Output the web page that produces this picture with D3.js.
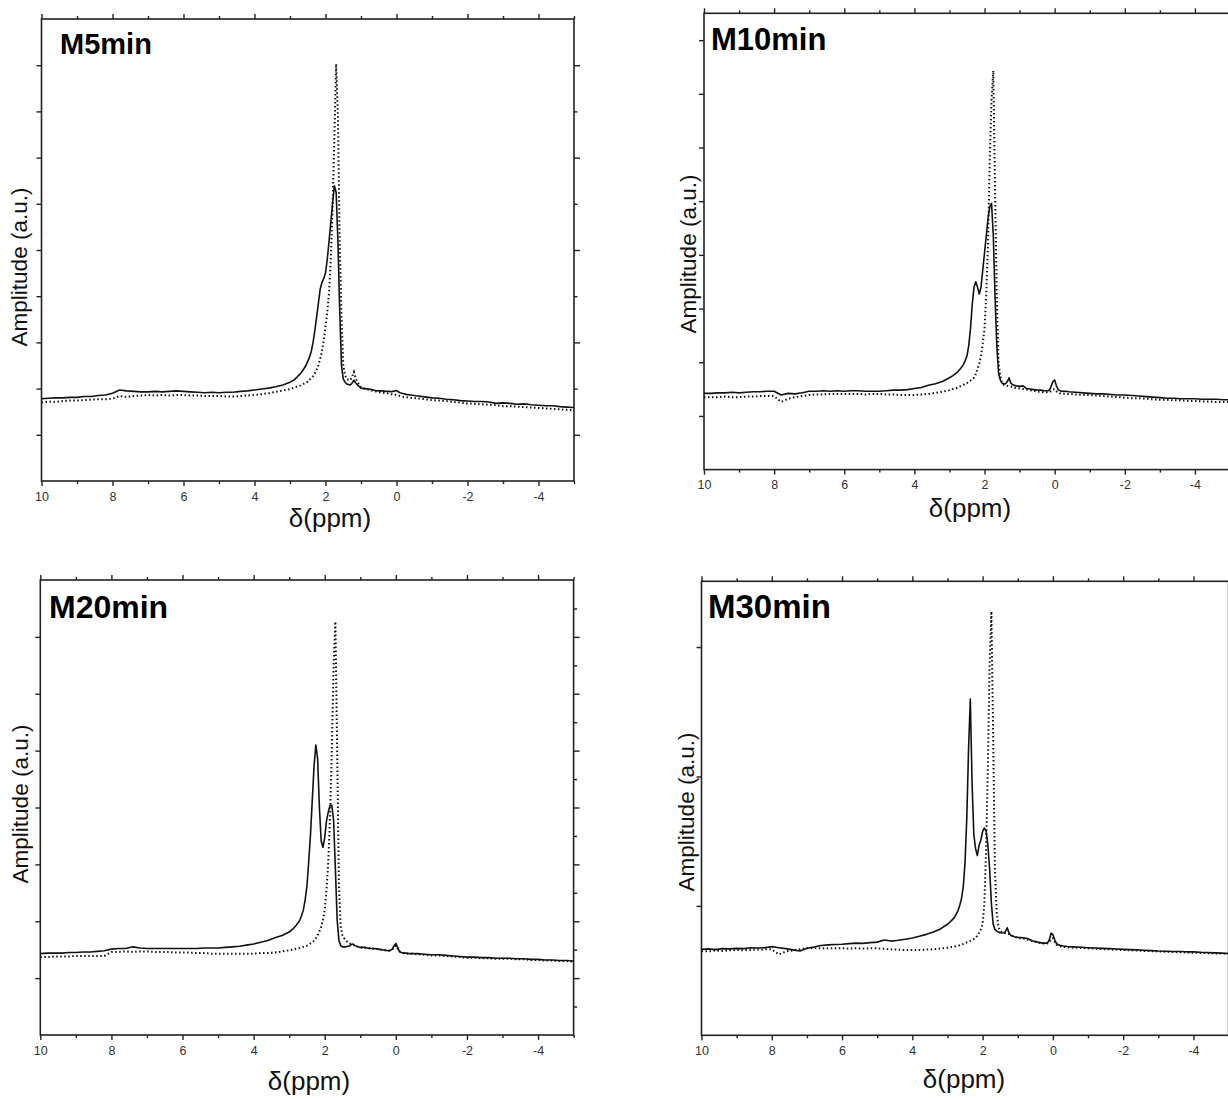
<!DOCTYPE html>
<html>
<head>
<meta charset="utf-8">
<script src="https://cdn.jsdelivr.net/npm/d3@7"></script>
<style>
  html, body { margin: 0; padding: 0; background: #fff; }
  svg { display: block; }
  .tick text { font-family: "Liberation Sans", Arial, sans-serif; fill: #333; }
</style>
</head>
<body>
<svg id="chart" width="1228" height="1099"></svg>
<script>
// Chemical shift grid (ppm), shared by every spectrum
const ppm = [
  10, 9.8, 9.6, 9.4, 9.2, 9.0, 8.8, 8.6, 8.4, 8.2, 8.0, 7.8, 7.6, 7.4, 7.2, 7.0, 6.8, 6.6, 6.4, 6.2,
  6.0, 5.8, 5.6, 5.4, 5.2, 5.0, 4.8, 4.6, 4.4, 4.2, 4.0, 3.8, 3.6, 3.4, 3.2,
  3.0, 2.9, 2.8, 2.7, 2.65, 2.6, 2.55, 2.5, 2.45, 2.4, 2.35, 2.3, 2.25, 2.2, 2.15, 2.1, 2.05, 2.0,
  1.95, 1.9, 1.85, 1.8, 1.75, 1.7, 1.65, 1.6, 1.55, 1.5, 1.45, 1.4, 1.35, 1.3, 1.25, 1.2, 1.15, 1.1, 1.0,
  0.9, 0.8, 0.7, 0.6, 0.5, 0.4, 0.3, 0.2, 0.15, 0.1, 0.05, 0, -0.05, -0.1, -0.15, -0.2, -0.3, -0.4,
  -0.6, -0.8, -1.0, -1.2, -1.4, -1.6, -1.8, -2.0, -2.2, -2.4, -2.6, -2.8, -3.0, -3.2, -3.4, -3.6,
  -3.8, -4.0, -4.2, -4.4, -4.6, -4.8, -5.0
];

// M5min
const m5Sample = [
  1.78, 1.79, 1.80, 1.80, 1.81, 1.81, 1.83, 1.83, 1.85, 1.86, 1.90, 1.97, 1.95, 1.94, 1.93, 1.93, 1.94, 1.93, 1.94, 1.95,
  1.94, 1.93, 1.92, 1.91, 1.92, 1.91, 1.92, 1.92, 1.94, 1.95, 1.97, 1.99, 2.01, 2.04, 2.08,
  2.14, 2.18, 2.25, 2.33, 2.38, 2.44, 2.50, 2.59, 2.68, 2.81, 3.00, 3.26, 3.55, 3.85, 4.15, 4.30, 4.38, 4.50,
  4.80, 5.19, 5.60, 6.01, 6.39, 6.25, 5.19, 3.70, 2.51, 2.21, 2.14, 2.10, 2.09, 2.08, 2.12, 2.18, 2.12, 2.08, 2.01,
  2.00, 1.99, 1.98, 1.96, 1.95, 1.95, 1.94, 1.94, 1.93, 1.94, 1.95, 1.96, 1.93, 1.91, 1.90, 1.89, 1.87, 1.86,
  1.84, 1.82, 1.80, 1.79, 1.77, 1.76, 1.74, 1.73, 1.72, 1.72, 1.71, 1.68, 1.69, 1.68, 1.66, 1.67,
  1.65, 1.64, 1.63, 1.63, 1.61, 1.60, 1.59
];
const m5Reference = [
  1.70, 1.72, 1.71, 1.73, 1.74, 1.74, 1.75, 1.76, 1.77, 1.77, 1.78, 1.84, 1.82, 1.84, 1.85, 1.86, 1.85, 1.86, 1.85, 1.86,
  1.86, 1.85, 1.85, 1.84, 1.84, 1.84, 1.83, 1.83, 1.84, 1.85, 1.86, 1.88, 1.90, 1.93, 1.96,
  1.99, 2.02, 2.04, 2.07, 2.09, 2.11, 2.13, 2.15, 2.19, 2.23, 2.27, 2.33, 2.41, 2.51, 2.64, 2.81, 3.03, 3.33,
  3.66, 4.08, 4.82, 5.94, 7.43, 9.03, 7.90, 5.19, 3.55, 2.51, 2.29, 2.21, 2.19, 2.18, 2.26, 2.36, 2.22, 2.14, 2.03,
  2.00, 1.98, 1.96, 1.94, 1.92, 1.91, 1.90, 1.89, 1.88, 1.88, 1.87, 1.86, 1.85, 1.84, 1.83, 1.82, 1.81, 1.80,
  1.79, 1.77, 1.75, 1.74, 1.73, 1.71, 1.70, 1.68, 1.67, 1.66, 1.65, 1.64, 1.62, 1.62, 1.61, 1.60,
  1.59, 1.58, 1.57, 1.56, 1.55, 1.54, 1.53
];

// M10min
const m10Sample = [
  1.42, 1.42, 1.43, 1.43, 1.44, 1.43, 1.44, 1.45, 1.45, 1.46, 1.46, 1.39, 1.42, 1.41, 1.43, 1.46, 1.46, 1.47, 1.46, 1.47,
  1.46, 1.47, 1.47, 1.46, 1.46, 1.46, 1.47, 1.48, 1.48, 1.49, 1.51, 1.53, 1.57, 1.60, 1.64,
  1.71, 1.75, 1.80, 1.87, 1.91, 1.96, 2.03, 2.12, 2.31, 2.63, 3.08, 3.40, 3.50, 3.40, 3.27, 3.40, 3.72, 4.04,
  4.36, 4.68, 4.90, 4.96, 4.36, 3.21, 2.31, 1.80, 1.67, 1.61, 1.60, 1.60, 1.64, 1.71, 1.61, 1.58, 1.57, 1.56, 1.55,
  1.56, 1.51, 1.50, 1.49, 1.48, 1.48, 1.47, 1.47, 1.48, 1.55, 1.64, 1.67, 1.56, 1.49, 1.47, 1.46, 1.46, 1.45,
  1.44, 1.43, 1.42, 1.41, 1.41, 1.40, 1.39, 1.39, 1.38, 1.37, 1.36, 1.35, 1.34, 1.33, 1.33, 1.32,
  1.32, 1.32, 1.31, 1.31, 1.31, 1.30, 1.30
];
const m10Reference = [
  1.35, 1.35, 1.35, 1.36, 1.35, 1.35, 1.36, 1.36, 1.37, 1.37, 1.37, 1.26, 1.32, 1.35, 1.37, 1.39, 1.40, 1.40, 1.41, 1.41,
  1.41, 1.41, 1.41, 1.40, 1.41, 1.41, 1.40, 1.40, 1.39, 1.39, 1.39, 1.40, 1.41, 1.43, 1.45,
  1.48, 1.50, 1.52, 1.55, 1.57, 1.58, 1.60, 1.61, 1.64, 1.66, 1.68, 1.71, 1.78, 1.87, 1.98, 2.12, 2.35, 2.63,
  3.27, 4.23, 5.83, 6.90, 7.43, 5.20, 3.20, 1.99, 1.74, 1.61, 1.58, 1.57, 1.56, 1.55, 1.55, 1.54, 1.53, 1.52, 1.51,
  1.50, 1.49, 1.48, 1.47, 1.45, 1.45, 1.44, 1.44, 1.44, 1.46, 1.49, 1.50, 1.46, 1.43, 1.42, 1.42, 1.41, 1.41,
  1.40, 1.39, 1.39, 1.38, 1.37, 1.36, 1.35, 1.34, 1.33, 1.33, 1.32, 1.31, 1.30, 1.30, 1.29, 1.29,
  1.28, 1.28, 1.27, 1.27, 1.26, 1.26, 1.26
];

// M20min
const m20Sample = [
  1.43, 1.44, 1.44, 1.44, 1.45, 1.45, 1.46, 1.46, 1.47, 1.48, 1.51, 1.52, 1.52, 1.55, 1.53, 1.52, 1.52, 1.52, 1.52, 1.52,
  1.52, 1.52, 1.52, 1.53, 1.53, 1.53, 1.54, 1.55, 1.56, 1.58, 1.60, 1.63, 1.66, 1.71, 1.75,
  1.81, 1.86, 1.93, 2.02, 2.10, 2.20, 2.38, 2.62, 3.05, 3.53, 4.13, 4.73, 5.10, 4.86, 4.01, 3.41, 3.30, 3.47,
  3.77, 3.92, 4.04, 4.04, 3.77, 2.92, 2.02, 1.66, 1.57, 1.55, 1.55, 1.55, 1.56, 1.57, 1.59, 1.60, 1.57, 1.56, 1.54,
  1.54, 1.53, 1.52, 1.52, 1.51, 1.50, 1.49, 1.48, 1.49, 1.51, 1.57, 1.61, 1.54, 1.47, 1.45, 1.44, 1.44, 1.43,
  1.43, 1.42, 1.41, 1.41, 1.40, 1.39, 1.38, 1.37, 1.37, 1.36, 1.36, 1.35, 1.35, 1.35, 1.34, 1.34,
  1.33, 1.33, 1.32, 1.32, 1.31, 1.31, 1.30
];
const m20Reference = [
  1.37, 1.37, 1.38, 1.38, 1.38, 1.39, 1.39, 1.39, 1.39, 1.39, 1.46, 1.46, 1.47, 1.46, 1.47, 1.47, 1.46, 1.46, 1.46, 1.45,
  1.45, 1.45, 1.44, 1.44, 1.43, 1.43, 1.43, 1.43, 1.43, 1.43, 1.43, 1.44, 1.44, 1.45, 1.47,
  1.49, 1.50, 1.52, 1.53, 1.54, 1.55, 1.56, 1.57, 1.59, 1.61, 1.63, 1.66, 1.70, 1.75, 1.82, 1.90, 2.03, 2.20,
  2.56, 3.05, 3.83, 5.04, 6.50, 7.27, 5.00, 2.62, 1.90, 1.75, 1.70, 1.66, 1.63, 1.61, 1.60, 1.59, 1.57, 1.56, 1.54,
  1.54, 1.53, 1.52, 1.51, 1.51, 1.50, 1.49, 1.48, 1.49, 1.50, 1.54, 1.57, 1.52, 1.47, 1.45, 1.44, 1.43, 1.43,
  1.42, 1.41, 1.40, 1.40, 1.39, 1.38, 1.37, 1.36, 1.36, 1.35, 1.35, 1.34, 1.34, 1.34, 1.33, 1.33,
  1.32, 1.32, 1.31, 1.31, 1.30, 1.30, 1.29
];

// M30min
const m30Sample = [
  0.664, 0.668, 0.662, 0.670, 0.668, 0.672, 0.670, 0.676, 0.674, 0.677, 0.685, 0.677, 0.670, 0.660, 0.651, 0.672, 0.682, 0.694, 0.699, 0.702,
  0.704, 0.708, 0.712, 0.710, 0.716, 0.720, 0.736, 0.728, 0.734, 0.742, 0.752, 0.765, 0.780, 0.798, 0.822,
  0.858, 0.882, 0.911, 0.964, 1.005, 1.057, 1.150, 1.336, 1.681, 2.212, 2.598, 1.947, 1.549, 1.442, 1.389, 1.469, 1.509, 1.575,
  1.602, 1.575, 1.469, 1.283, 1.017, 0.858, 0.818, 0.805, 0.798, 0.792, 0.790, 0.792, 0.800, 0.831, 0.792, 0.772, 0.768, 0.762, 0.757,
  0.755, 0.752, 0.745, 0.730, 0.725, 0.718, 0.712, 0.712, 0.716, 0.738, 0.790, 0.778, 0.740, 0.710, 0.700, 0.695, 0.690, 0.686,
  0.683, 0.680, 0.677, 0.675, 0.672, 0.670, 0.667, 0.664, 0.662, 0.660, 0.657, 0.654, 0.651, 0.650, 0.648, 0.647,
  0.645, 0.645, 0.641, 0.640, 0.637, 0.635, 0.632
];
const m30Reference = [
  0.651, 0.648, 0.655, 0.652, 0.657, 0.659, 0.657, 0.660, 0.662, 0.664, 0.664, 0.624, 0.648, 0.656, 0.665, 0.672, 0.674, 0.672, 0.673, 0.672,
  0.672, 0.671, 0.672, 0.670, 0.672, 0.672, 0.668, 0.664, 0.662, 0.658, 0.659, 0.660, 0.662, 0.665, 0.670,
  0.677, 0.681, 0.686, 0.692, 0.696, 0.700, 0.706, 0.712, 0.718, 0.724, 0.730, 0.737, 0.744, 0.752, 0.770, 0.792, 0.820, 0.858,
  1.020, 1.450, 2.090, 2.880, 3.275, 2.300, 1.280, 0.950, 0.840, 0.805, 0.798, 0.792, 0.788, 0.785, 0.782, 0.775, 0.768, 0.762, 0.752,
  0.750, 0.745, 0.738, 0.730, 0.722, 0.716, 0.710, 0.708, 0.710, 0.720, 0.745, 0.750, 0.725, 0.700, 0.692, 0.688, 0.684, 0.680,
  0.677, 0.674, 0.672, 0.669, 0.667, 0.664, 0.662, 0.659, 0.657, 0.655, 0.652, 0.650, 0.648, 0.646, 0.644, 0.642,
  0.640, 0.638, 0.637, 0.635, 0.633, 0.632, 0.630
];

// Axis tick values
const xMajorTicks = [10, 8, 6, 4, 2, 0, -2, -4];
const xMinorTicks = [9, 7, 5, 3, 1, -1, -3, -5];
const panelTitles = ["M5min", "M10min", "M20min", "M30min"];
const xTitle = "δ(ppm)";
const yTitle = "Amplitude (a.u.)";

const svg = d3.select("#chart");
const FONT = '"Liberation Sans", Arial, Helvetica, sans-serif';

const panels = [
  { title: panelTitles[0], sample: m5Sample, reference: m5Reference,
    left: 41.5, right: 574, top: 19, bottom: 481, yMax: 10,
    leftTicks: [1, 2, 3, 4, 5, 6, 7, 8, 9], rightMajor: [1, 3, 5, 7, 9], rightMinor: [2, 4, 6, 8],
    titleX: 60, titleY: 54, titleSize: 29,
    yTitleX: 27, yTitleY: 267, xTitleX: 330, xTitleY: 527 },
  { title: panelTitles[1], sample: m10Sample, reference: m10Reference,
    left: 704, right: 1230, top: 13.3, bottom: 469.6, yMax: 8.5,
    leftTicks: [1, 2, 3, 4, 5, 6, 7, 8], rightMajor: [2, 4, 6, 8], rightMinor: [1, 3, 5, 7],
    titleX: 711, titleY: 50, titleSize: 31,
    yTitleX: 696, yTitleY: 254, xTitleX: 970, xTitleY: 517 },
  { title: panelTitles[2], sample: m20Sample, reference: m20Reference,
    left: 40.3, right: 573.6, top: 580, bottom: 1035, yMax: 8,
    leftTicks: [1, 2, 3, 4, 5, 6, 7], rightMajor: [1, 2, 3, 4, 5, 6, 7],
    rightMinor: [0.5, 1.5, 2.5, 3.5, 4.5, 5.5, 6.5, 7.5],
    titleX: 49, titleY: 618, titleSize: 32,
    yTitleX: 28, yTitleY: 804, xTitleX: 309, xTitleY: 1090 },
  { title: panelTitles[3], sample: m30Sample, reference: m30Reference,
    left: 701.5, right: 1228.6, top: 581.3, bottom: 1035.3, yMax: 3.508,
    leftTicks: [1, 2, 3], rightMajor: [1, 2, 3], rightMinor: [],
    titleX: 708, titleY: 618, titleSize: 33,
    yTitleX: 694, yTitleY: 812, xTitleX: 964, xTitleY: 1088 }
];

function drawPanel(p) {
  const g = svg.append("g");
  const x = d3.scaleLinear().domain([10, -5]).range([p.left, p.right]);
  const y = d3.scaleLinear().domain([0, p.yMax]).range([p.bottom, p.top]);

  const styleAxis = sel => {
    sel.select(".domain").remove();
    sel.selectAll(".tick line").attr("stroke", "#222").attr("stroke-width", 1.4);
  };

  // bottom axis: labelled majors + minors
  g.append("g").attr("transform", `translate(0,${p.bottom})`)
    .call(d3.axisBottom(x).tickValues(xMajorTicks).tickSize(5).tickPadding(6)
      .tickFormat(d => String(d)))
    .call(styleAxis)
    .call(s => s.selectAll(".tick text").attr("font-size", 12.5).attr("font-family", FONT).attr("fill", "#333"));
  g.append("g").attr("transform", `translate(0,${p.bottom})`)
    .call(d3.axisBottom(x).tickValues(xMinorTicks).tickSize(3).tickFormat(""))
    .call(styleAxis);

  // top axis
  g.append("g").attr("transform", `translate(0,${p.top})`)
    .call(d3.axisTop(x).tickValues(xMajorTicks).tickSize(5).tickFormat(""))
    .call(styleAxis);
  g.append("g").attr("transform", `translate(0,${p.top})`)
    .call(d3.axisTop(x).tickValues(xMinorTicks).tickSize(3).tickFormat(""))
    .call(styleAxis);

  // left axis
  g.append("g").attr("transform", `translate(${p.left},0)`)
    .call(d3.axisLeft(y).tickValues(p.leftTicks).tickSize(5).tickFormat(""))
    .call(styleAxis);

  // right axis
  g.append("g").attr("transform", `translate(${p.right},0)`)
    .call(d3.axisRight(y).tickValues(p.rightMajor).tickSize(6).tickFormat(""))
    .call(styleAxis);
  if (p.rightMinor.length) {
    g.append("g").attr("transform", `translate(${p.right},0)`)
      .call(d3.axisRight(y).tickValues(p.rightMinor).tickSize(3.5).tickFormat(""))
      .call(styleAxis);
  }

  // frame
  g.append("rect")
    .attr("x", p.left).attr("y", p.top)
    .attr("width", p.right - p.left).attr("height", p.bottom - p.top)
    .attr("fill", "none").attr("stroke", "#222").attr("stroke-width", 1.6);

  const line = d3.line()
    .x((d, i) => x(ppm[i]))
    .y(d => y(d));

  // reference spectrum (dotted)
  g.append("path")
    .datum(p.reference)
    .attr("d", line)
    .attr("fill", "none")
    .attr("stroke", "#111")
    .attr("stroke-width", 2)
    .attr("stroke-dasharray", "1.5,2.5");

  // sample spectrum (solid)
  g.append("path")
    .datum(p.sample)
    .attr("d", line)
    .attr("fill", "none")
    .attr("stroke", "#111")
    .attr("stroke-width", 1.6)
    .attr("stroke-linejoin", "round");

  // panel label
  g.append("text")
    .attr("x", p.titleX).attr("y", p.titleY)
    .attr("font-family", FONT).attr("font-weight", "bold")
    .attr("font-size", p.titleSize).attr("fill", "#000")
    .text(p.title);

  // axis titles
  g.append("text")
    .attr("x", p.xTitleX).attr("y", p.xTitleY)
    .attr("text-anchor", "middle")
    .attr("font-family", FONT).attr("font-size", 26).attr("fill", "#111")
    .text(xTitle);

  g.append("text")
    .attr("transform", `translate(${p.yTitleX},${p.yTitleY}) rotate(-90)`)
    .attr("text-anchor", "middle")
    .attr("font-family", FONT).attr("font-size", 22.5).attr("fill", "#111")
    .text(yTitle);
}

panels.forEach(drawPanel);
</script>
</body>
</html>
